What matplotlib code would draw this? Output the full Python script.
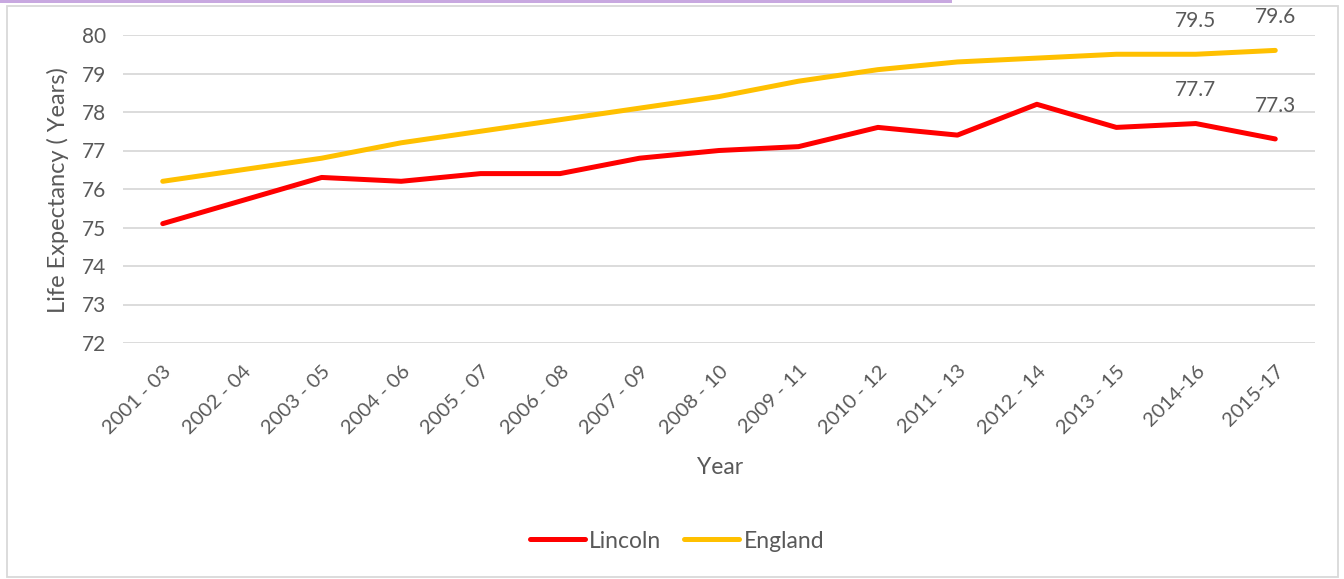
import matplotlib.pyplot as plt
from matplotlib.patches import Rectangle
from matplotlib.lines import Line2D

plt.rcParams['font.family'] = ['Lato', 'DejaVu Sans']

years = ["2001 - 03", "2002 - 04", "2003 - 05", "2004 - 06", "2005 - 07",
         "2006 - 08", "2007 - 09", "2008 - 10", "2009 - 11", "2010 - 12",
         "2011 - 13", "2012 - 14", "2013 - 15", "2014-16", "2015-17"]
lincoln = [75.1, 75.7, 76.3, 76.2, 76.4, 76.4, 76.8, 77.0, 77.1, 77.6,
           77.4, 78.2, 77.6, 77.7, 77.3]
england = [76.2, 76.5, 76.8, 77.2, 77.5, 77.8, 78.1, 78.4, 78.8, 79.1,
           79.3, 79.4, 79.5, 79.5, 79.6]
yticks = [72, 73, 74, 75, 76, 77, 78, 79, 80]

txt = "#595959"
W, H = 1344, 579
fig = plt.figure(figsize=(W / 100, H / 100), dpi=100)
ax = fig.add_axes([123 / W, 1 - 343 / H, (1315 - 123) / W, (343 - 35) / H])

x = list(range(len(years)))
ax.plot(x, lincoln, color="#FF0000", lw=3.6, solid_capstyle="round", label="Lincoln", zorder=3)
ax.plot(x, england, color="#FFC000", lw=3.6, solid_capstyle="round", label="England", zorder=3)

# data labels on the last two points
for i in [13, 14]:
    ax.annotate(f"{england[i]}", (x[i], england[i]), xytext=(0, 24), textcoords="offset points",
                ha="center", va="center", fontsize=15, color=txt)
    ax.annotate(f"{lincoln[i]}", (x[i], lincoln[i]), xytext=(0, 24), textcoords="offset points",
                ha="center", va="center", fontsize=15, color=txt)

ax.set_xlim(-0.5, len(years) - 0.5)
ax.set_ylim(72, 80)
ax.set_yticks(yticks)
ax.set_yticklabels([str(v) for v in yticks], fontsize=15, color=txt)
ax.set_xticks(x)
ax.set_xticklabels(years, rotation=45, ha="right", rotation_mode="anchor", fontsize=14.5, color=txt)
ax.tick_params(length=0, pad=14)
ax.tick_params(axis="y", pad=12)
ax.grid(axis="y", color="#d9d9d9", lw=1.3)
ax.set_axisbelow(True)
for s in ax.spines.values():
    s.set_visible(False)

fig.text(58 / W, 1 - 190 / H, "Life Expectancy ( Years)", rotation=90, ha="center", va="center",
         fontsize=17, color=txt)
fig.text(720 / W, 1 - 468 / H, "Year", ha="center", va="center", fontsize=16.5, color=txt)

handles = [Line2D([], [], color="#FF0000", lw=3.6, solid_capstyle="round"),
           Line2D([], [], color="#FFC000", lw=3.6, solid_capstyle="round")]
fig.legend(handles, ["Lincoln", "England"], loc="center", bbox_to_anchor=(677 / W, 1 - 541 / H),
           ncol=2, frameon=False, fontsize=16.5, labelcolor=txt, handlelength=2.4,
           handletextpad=0.2, columnspacing=1.0)

# chart border and top strip
fig.patches.append(Rectangle((7 / W, 2 / H), (1338 - 7) / W, (573 - 2) / H, transform=fig.transFigure,
                             fill=False, edgecolor="#d9d9d9", lw=1.3))
fig.patches.append(Rectangle((0, 1 - 3 / H), 952 / W, 3 / H, transform=fig.transFigure,
                             facecolor="#c8a8e0", edgecolor="none"))

fig.savefig("out.png", dpi=100)
